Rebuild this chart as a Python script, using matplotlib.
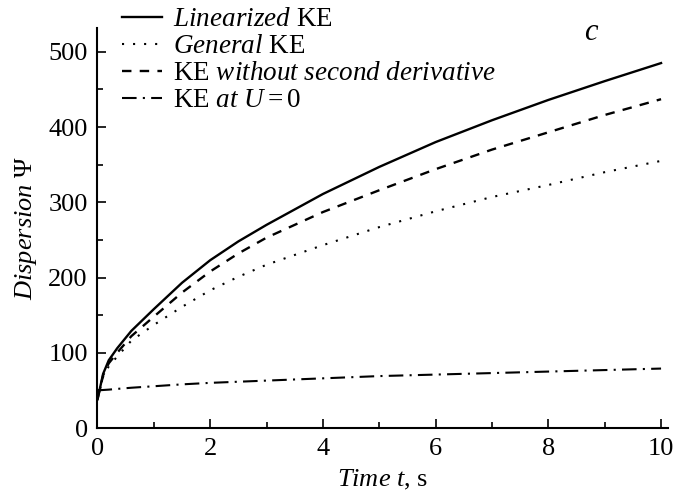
import matplotlib
matplotlib.use("Agg")
import matplotlib.pyplot as plt
from matplotlib.ticker import MultipleLocator

plt.rcParams['font.family'] = ['Liberation Serif', 'DejaVu Serif']
plt.rcParams['mathtext.fontset'] = 'custom'
plt.rcParams['mathtext.rm'] = 'Liberation Serif'
plt.rcParams['mathtext.it'] = 'Liberation Serif:italic'

# data
t = [0, 0.1, 0.2, 0.35, 0.6, 1, 1.5, 2, 2.5, 3, 4, 5, 6, 7, 8, 9, 10]
linearized = [38, 72, 90, 106, 129, 158, 193, 223, 248, 270, 311, 347, 380, 409, 436, 461, 485]
general = [38, 68, 82, 95, 116, 137, 161, 183, 201, 217, 243, 267, 288, 307, 323, 340, 355]
no_second = [38, 70, 86, 100, 122, 148, 180, 208, 232, 253, 287, 316, 344, 370, 393, 416, 437]
u_zero = [50, 50.5, 51, 52, 53.5, 55.5, 58, 60, 61.5, 63, 66, 69, 71, 73, 75, 77, 79]

labels = [r'$\mathit{Linearized}$ KE', r'$\mathit{General}$ KE',
          r'KE $\mathit{without\ second\ derivative}$', r'KE $\mathit{at}\ U = 0$']

fig = plt.figure(figsize=(6.76, 4.94), dpi=100)
ax = fig.add_axes([0.1442, 0.1336, 0.8437, 0.8103])

ax.plot(t, linearized, color='black', lw=1.7, ls='-', label=labels[0])
ax.plot(t, general, color='black', lw=1.5, ls=(0, (1, 4.3)), label=labels[1])
ax.plot(t, no_second, color='black', lw=1.7, ls=(0, (4, 3.5)), label=labels[2])
ax.plot(t, u_zero, color='black', lw=1.5, ls=(0, (7, 3, 1, 3)), label=labels[3])

ax.set_xlim(0, 10.12)
ax.set_ylim(0, 532)
ax.spines['top'].set_visible(False)
ax.spines['right'].set_visible(False)
for s in ('left', 'bottom'):
    ax.spines[s].set_linewidth(1.5)

ax.xaxis.set_major_locator(MultipleLocator(2))
ax.xaxis.set_minor_locator(MultipleLocator(1))
ax.yaxis.set_major_locator(MultipleLocator(100))
ax.yaxis.set_minor_locator(MultipleLocator(50))
ax.tick_params(which='both', direction='in', width=1.2, labelsize=19)
ax.tick_params(which='major', length=6.5, pad=7)
ax.tick_params(which='minor', length=4)

ax.set_xlabel(r'$\mathit{Time\ t}$, s', fontsize=19, labelpad=6)
ax.set_ylabel(r'$\mathit{Dispersion}$ Ψ', fontsize=19, labelpad=7)

fig.text(584 / 676, 1 - 32 / 494, r'$\mathit{c}$', fontsize=22, va='center', ha='left')

fig.legend(loc='upper left', bbox_to_anchor=(0.18, 0.985), frameon=False,
           fontsize=19.5, handlelength=1.5, handletextpad=0.4,
           labelspacing=0.07, borderpad=0, borderaxespad=0)

fig.savefig('out.png', dpi=100)
